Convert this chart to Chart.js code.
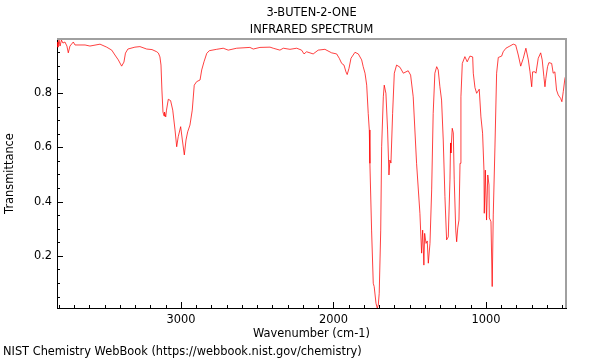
<!DOCTYPE html>
<html>
<head>
<meta charset="utf-8">
<script src="https://cdn.jsdelivr.net/npm/chart.js@4.4.1/dist/chart.umd.min.js"></script>
<style>
  html, body { margin: 0; padding: 0; background: #fff; }
  #wrap { width: 600px; height: 360px; }
</style>
</head>
<body>
<div id="wrap"><canvas id="irChart" width="600" height="360"></canvas></div>
<script>
// spectrum (wavenumber in cm-1, transmittance)
const wavenumbers = [
  3813, 3807, 3800, 3793, 3784, 3774, 3761, 3748, 3739, 3728, 3706, 3695, 3629, 3597, 3531, 3487,
  3454, 3433, 3411, 3389, 3374, 3364, 3348, 3302, 3269, 3225, 3190, 3159, 3148, 3138, 3131, 3125,
  3118, 3111, 3108, 3100, 3095, 3083, 3068, 3054, 3039, 3028, 3018, 3002, 2991, 2978, 2967, 2956,
  2941, 2926, 2913, 2897, 2875, 2864, 2849, 2831, 2814, 2766, 2723, 2690, 2635, 2548, 2526, 2482,
  2416, 2395, 2351, 2329, 2285, 2241, 2209, 2193, 2176, 2133, 2100, 2056, 2012, 1979, 1962, 1946,
  1931, 1918, 1910, 1898, 1885, 1859, 1837, 1815, 1805, 1793, 1782, 1772, 1765, 1761, 1750, 1739,
  1733, 1721, 1713, 1706, 1700, 1690, 1684, 1673, 1667, 1656, 1645, 1636, 1630, 1623, 1612, 1601,
  1586, 1564, 1542, 1510, 1494, 1477, 1455, 1433, 1422, 1415, 1407, 1402, 1393, 1385, 1378, 1367,
  1356, 1346, 1335, 1323, 1313, 1302, 1291, 1280, 1269, 1258, 1247, 1236, 1232, 1230, 1221, 1214,
  1208, 1198, 1192, 1185, 1177, 1170, 1164, 1155, 1138, 1123, 1105, 1087, 1083, 1072, 1061, 1044,
  1033, 1022, 1013, 1011, 1004, 996, 988, 980, 978, 967, 959, 952, 941, 930, 919, 897,
  887, 869, 843, 821, 805, 788, 772, 755, 738, 722, 711, 700, 694, 679, 672, 657,
  641, 631, 620, 613, 607, 596, 587, 569, 559, 548, 537, 526, 510, 502, 493, 482, 475
];
const transmittance = [
  0.988, 0.969, 0.995, 0.973, 0.995, 0.984, 0.988, 0.973, 0.948, 0.973, 0.988, 0.977, 0.977, 0.973, 0.980, 0.969,
  0.958, 0.940, 0.922, 0.899, 0.914, 0.947, 0.962, 0.969, 0.971, 0.962, 0.960, 0.952, 0.947, 0.933, 0.903, 0.811,
  0.730, 0.715, 0.730, 0.712, 0.737, 0.777, 0.772, 0.737, 0.664, 0.602, 0.639, 0.676, 0.627, 0.572, 0.627, 0.657,
  0.682, 0.737, 0.829, 0.842, 0.848, 0.885, 0.915, 0.946, 0.956, 0.961, 0.965, 0.958, 0.965, 0.968, 0.962, 0.968,
  0.969, 0.965, 0.958, 0.965, 0.961, 0.965, 0.958, 0.944, 0.952, 0.944, 0.958, 0.961, 0.948, 0.944, 0.928, 0.909,
  0.903, 0.878, 0.868, 0.891, 0.928, 0.950, 0.944, 0.922, 0.897, 0.873, 0.829, 0.725, 0.664, 0.541, 0.295, 0.099,
  0.087, 0.025, 0.008, 0.019, 0.062, 0.295, 0.602, 0.786, 0.829, 0.799, 0.664, 0.498, 0.553, 0.542, 0.725, 0.873,
  0.903, 0.895, 0.873, 0.882, 0.866, 0.786, 0.541, 0.357, 0.210, 0.295, 0.166, 0.283, 0.246, 0.255, 0.173, 0.246,
  0.443, 0.725, 0.873, 0.897, 0.885, 0.823, 0.774, 0.627, 0.418, 0.259, 0.270, 0.480, 0.616, 0.579, 0.670, 0.653,
  0.480, 0.295, 0.252, 0.303, 0.332, 0.541, 0.786, 0.909, 0.934, 0.915, 0.936, 0.933, 0.873, 0.820, 0.799, 0.814,
  0.712, 0.652, 0.516, 0.357, 0.516, 0.332, 0.498, 0.461, 0.340, 0.326, 0.087, 0.351, 0.601, 0.873, 0.931, 0.936,
  0.952, 0.965, 0.973, 0.980, 0.977, 0.940, 0.899, 0.928, 0.965, 0.922, 0.878, 0.823, 0.878, 0.878, 0.873, 0.928,
  0.948, 0.922, 0.860, 0.823, 0.854, 0.897, 0.912, 0.909, 0.873, 0.878, 0.811, 0.793, 0.780, 0.768, 0.805, 0.854, 0.866
];
const xTickValues = [3000, 2000, 1000];
const yTickValues = [0.2, 0.4, 0.6, 0.8];
const titleLines = ['3-BUTEN-2-ONE', 'INFRARED SPECTRUM'];
const footerText = 'NIST Chemistry WebBook (https://webbook.nist.gov/chemistry)';

Chart.defaults.font.family = "'DejaVu Sans', sans-serif";
Chart.defaults.font.size = 11.4;
Chart.defaults.color = '#000';

// inward ticks, grey top/right frame, title and footer
const decorations = {
  id: 'decorations',
  afterDatasetsDraw(chart) {
    const { ctx, chartArea: a, scales: { x, y } } = chart;
    ctx.save();
    ctx.strokeStyle = '#000';
    ctx.lineWidth = 1;
    ctx.beginPath();
    for (let w = 3800; w >= 500; w -= 100) {
      const px = Math.round(x.getPixelForValue(w)) + 0.5;
      const len = w % 1000 === 0 ? 6 : 3;
      ctx.moveTo(px, a.bottom);
      ctx.lineTo(px, a.bottom - len);
    }
    for (let k = 1; k <= 19; k++) {
      const py = Math.round(y.getPixelForValue(k * 0.05)) + 0.5;
      const len = k % 4 === 0 ? 6 : 3;
      ctx.moveTo(a.left, py);
      ctx.lineTo(a.left + len, py);
    }
    ctx.stroke();

    ctx.strokeStyle = '#a0a0a0';
    ctx.lineWidth = 2;
    ctx.beginPath();
    ctx.moveTo(a.left, a.top);
    ctx.lineTo(a.right, a.top);
    ctx.lineTo(a.right, a.bottom);
    ctx.stroke();

    ctx.fillStyle = '#000';
    ctx.font = "11.4px 'DejaVu Sans', sans-serif";
    ctx.textBaseline = 'middle';
    ctx.textAlign = 'center';
    const cx = (a.left + a.right) / 2;
    ctx.fillText(titleLines[0], cx, 13);
    ctx.fillText(titleLines[1], cx, 30);
    ctx.textAlign = 'left';
    ctx.fillText(footerText, 3, 352);
    ctx.restore();
  }
};

new Chart(document.getElementById('irChart'), {
  type: 'line',
  data: {
    datasets: [{
      data: wavenumbers.map((w, i) => ({ x: w, y: transmittance[i] })),
      borderColor: 'rgba(255, 0, 0, 0.75)',
      borderWidth: 1,
      pointRadius: 0,
      tension: 0,
      fill: false
    }]
  },
  options: {
    responsive: false,
    animation: false,
    layout: { padding: { top: 39, right: 34, left: 0, bottom: 0 } },
    plugins: {
      legend: { display: false },
      tooltip: { enabled: false }
    },
    scales: {
      x: {
        type: 'linear',
        reverse: true,
        min: 475,
        max: 3813,
        grid: { display: false, drawTicks: false },
        border: { display: true, color: '#000', width: 1 },
        afterBuildTicks: s => { s.ticks = xTickValues.map(v => ({ value: v })); },
        afterFit: s => { s.height = 52; },
        ticks: { padding: 5, maxRotation: 0, callback: v => String(v) },
        title: { display: true, text: 'Wavenumber (cm-1)', padding: { top: 0, bottom: 19 } }
      },
      y: {
        min: 0.008,
        max: 0.999,
        grid: { display: false, drawTicks: false },
        border: { display: true, color: '#000', width: 1 },
        afterBuildTicks: s => { s.ticks = yTickValues.map(v => ({ value: v })); },
        afterFit: s => { s.width = 57; },
        ticks: { padding: 5, callback: v => v.toFixed(1) },
        title: { display: true, text: 'Transmittance', padding: { top: 3, bottom: 0 } }
      }
    }
  },
  plugins: [decorations]
});
</script>
</body>
</html>
